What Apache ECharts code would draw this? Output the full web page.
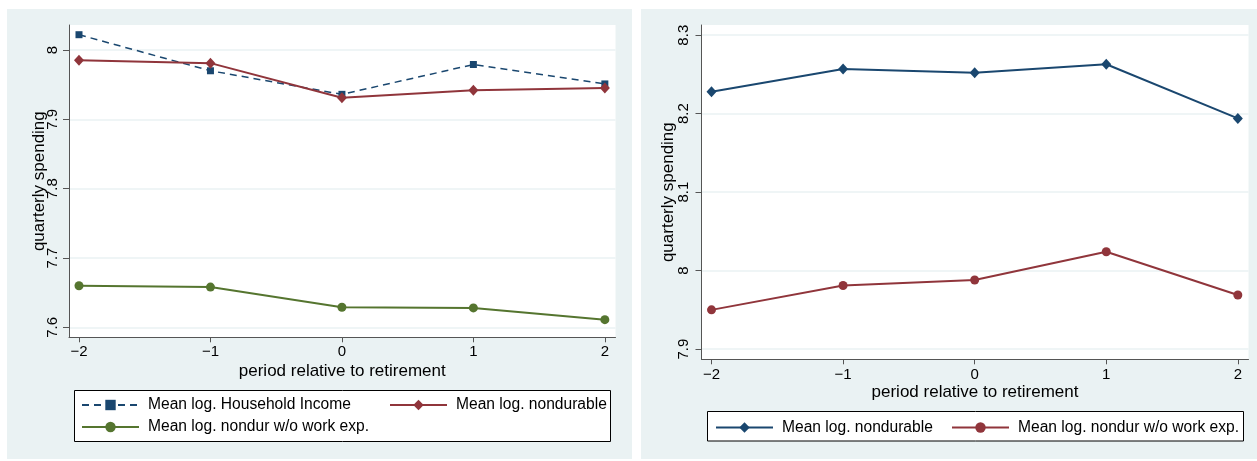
<!DOCTYPE html>
<html><head><meta charset="utf-8">
<script src="https://cdn.jsdelivr.net/npm/echarts@6/dist/echarts.min.js"></script>
<style>html,body{margin:0;padding:0;background:#fff}#c{width:1257px;height:461px}</style>
</head><body><div id="c"></div>
<script>
// ---- data ----
const periods = [-2, -1, 0, 1, 2];
const xTicks = [-2, -1, 0, 1, 2];
const leftYTicks = [7.6, 7.7, 7.8, 7.9, 8];
const rightYTicks = [7.9, 8, 8.1, 8.2, 8.3];
const leftIncome = [8.022, 7.970, 7.936, 7.979, 7.951];
const leftNondurable = [7.985, 7.981, 7.931, 7.942, 7.945];
const leftNondurWork = [7.660, 7.658, 7.629, 7.628, 7.611];
const rightNondurable = [8.228, 8.257, 8.252, 8.263, 8.194];
const rightNondurWork = [7.950, 7.981, 7.988, 8.024, 7.969];
const nameIncome = 'Mean log. Household Income';
const nameNondur = 'Mean log. nondurable';
const nameWork = 'Mean log. nondur w/o work exp.';
const R = ' (R)';

const FONT = '"Liberation Sans", Arial, Helvetica, sans-serif';
const navy = '#1a476f', maroon = '#90353b', green = '#55752f';
const bg = '#eaf2f3', axisCol = '#555';

const pairs = ys => periods.map((p, i) => [p, ys[i]]);
const minus = v => String(v).replace('-', '\u2212');

function xAxis(gi, gap, margin) {
  return {
    type: 'value', gridIndex: gi, min: -2.076, max: 2.081,
    axisLine: {show: true, onZero: false, lineStyle: {color: axisCol, width: 1}},
    axisTick: {show: true, customValues: xTicks, length: 5, lineStyle: {color: axisCol}},
    axisLabel: {customValues: xTicks, formatter: minus, fontSize: 15, color: '#000', margin: margin, fontFamily: FONT},
    splitLine: {show: false},
    name: 'period relative to retirement', nameLocation: 'middle', nameGap: gap, nameMoveOverlap: false,
    nameTextStyle: {fontSize: 17, color: '#000', fontFamily: FONT}
  };
}
function yAxis(gi, min, max, ticks, gap, margin) {
  return {
    type: 'value', gridIndex: gi, min: min, max: max,
    axisLine: {show: true, onZero: false, lineStyle: {color: axisCol, width: 1}},
    axisTick: {show: true, customValues: ticks, length: 6, lineStyle: {color: axisCol}},
    axisLabel: {customValues: ticks, rotate: 90, margin: margin, fontSize: 15, color: '#000', fontFamily: FONT},
    splitLine: {show: true, lineStyle: {color: bg, width: 1.5}},
    name: 'quarterly spending', nameLocation: 'middle', nameRotate: 90, nameGap: gap, nameMoveOverlap: false,
    nameTextStyle: {fontSize: 17, color: '#000', fontFamily: FONT}
  };
}
function series(name, gi, ys, color, symbol, size, lineType, width) {
  return {
    type: 'line', name: name, xAxisIndex: gi, yAxisIndex: gi, data: pairs(ys),
    symbol: symbol, symbolSize: size, showSymbol: true, clip: false,
    itemStyle: {color: color},
    lineStyle: {color: color, width: width, type: lineType},
    emphasis: {disabled: true}, animation: false
  };
}
function legend(name, left, top) {
  return {
    data: [name], left: left, top: top, padding: 0, itemGap: 0,
    itemWidth: 57, itemHeight: 13, selectedMode: false,
    formatter: n => n.replace(R, ''),
    textStyle: {fontSize: 15.6, color: '#000', fontFamily: FONT, padding: [0, 0, 0, 4]}
  };
}

const chart = echarts.init(document.getElementById('c'), null, {renderer: 'canvas'});
chart.setOption({
  backgroundColor: '#fff',
  animation: false,
  graphic: [
    {type: 'rect', z: -10, shape: {x: 7, y: 9, width: 625, height: 450}, style: {fill: bg}},
    {type: 'rect', z: -10, shape: {x: 641, y: 9, width: 616, height: 450}, style: {fill: bg}},
    {type: 'rect', z: 1, shape: {x: 74.5, y: 390.5, width: 536, height: 51}, style: {fill: '#fff', stroke: '#000', lineWidth: 1}},
    {type: 'rect', z: 1, shape: {x: 707.5, y: 411.5, width: 536, height: 29.5}, style: {fill: '#fff', stroke: '#000', lineWidth: 1}}
  ],
  grid: [
    {left: 69, top: 25, width: 546.5, height: 312.3, show: true, backgroundColor: '#fff', borderWidth: 0, containLabel: false},
    {left: 701.5, top: 25, width: 547, height: 334.3, show: true, backgroundColor: '#fff', borderWidth: 0, containLabel: false}
  ],
  xAxis: [xAxis(0, 26, 7), xAxis(1, 25, 8)],
  yAxis: [yAxis(0, 7.5856, 8.036, leftYTicks, 21.5, 9), yAxis(1, 7.887, 8.313, rightYTicks, 24.5, 10)],
  legend: [
    legend(nameIncome, 81, 397),
    legend(nameNondur, 389, 397),
    legend(nameWork, 81, 419),
    legend(nameNondur + R, 715, 419.5),
    legend(nameWork + R, 951, 419.5)
  ],
  series: [
    series(nameIncome, 0, leftIncome, navy, 'rect', 7, [7, 5], 1.5),
    series(nameNondur, 0, leftNondurable, maroon, 'diamond', [10, 11], 'solid', 2),
    series(nameWork, 0, leftNondurWork, green, 'circle', 9, 'solid', 2),
    series(nameNondur + R, 1, rightNondurable, navy, 'diamond', [10, 11], 'solid', 2),
    series(nameWork + R, 1, rightNondurWork, maroon, 'circle', 9, 'solid', 2)
  ]
});
</script></body></html>
